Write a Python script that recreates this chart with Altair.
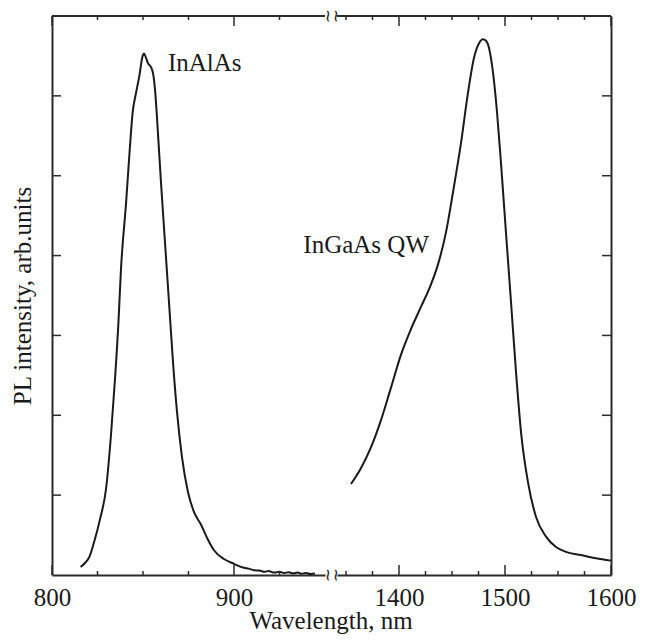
import altair as alt
import pandas as pd

# ---- data ----
inalas_nm = [815.7, 818.1, 820.6, 823.1, 826.4, 829.7, 832.4, 834.6, 836.5, 837.9,
             840.7, 842.6, 844.3, 846.2, 848.0, 849.8, 850.5, 851.6, 852.7, 854.4,
             855.7, 856.6, 857.4, 858.2, 859.9, 862.1, 864.3, 866.5, 868.7, 871.4,
             874.7, 878.0, 881.9, 885.5, 889.0, 894.5, 900.0, 905.5, 908.0, 911.0,
             914.0, 917.0, 919.0, 922.0, 925.0, 927.5, 930.0, 932.5, 935.0, 937.0,
             939.5, 942.0, 944.5]
inalas_int = [0.10, 0.15, 0.23, 0.41, 0.70, 1.08, 1.75, 2.45, 3.16, 3.83,
              4.66, 5.29, 5.79, 6.04, 6.25, 6.50, 6.53, 6.48, 6.41, 6.36,
              6.26, 6.08, 5.83, 5.54, 4.91, 4.16, 3.41, 2.66, 2.04, 1.48,
              1.04, 0.79, 0.63, 0.45, 0.31, 0.20, 0.14, 0.09, 0.08, 0.06,
              0.055, 0.04, 0.05, 0.03, 0.04, 0.025, 0.035, 0.02, 0.03, 0.015,
              0.025, 0.012, 0.018]

ingaas_nm = [1354.7, 1364.2, 1373.6, 1383.0, 1392.5, 1401.9, 1411.3, 1420.8, 1430.2, 1436.8,
             1444.3, 1450.9, 1458.5, 1465.1, 1470.8, 1475.5, 1479.2, 1482.1, 1484.9, 1488.7,
             1492.5, 1496.2, 1500.9, 1505.7, 1510.4, 1515.1, 1521.7, 1529.2, 1538.7, 1548.1,
             1557.5, 1571.7, 1585.8, 1600.0]
ingaas_int = [1.14, 1.34, 1.60, 1.94, 2.35, 2.76, 3.08, 3.36, 3.64, 3.89,
              4.29, 4.79, 5.41, 6.04, 6.48, 6.66, 6.71, 6.69, 6.60, 6.29,
              5.79, 5.16, 4.29, 3.41, 2.54, 1.79, 1.16, 0.73, 0.48, 0.35,
              0.29, 0.25, 0.21, 0.18]

left_domain = [800, 950]
right_domain = [1341.5, 1600]
left_major = [800, 900]
left_minor = [825, 850, 875, 925]
right_major = [1400, 1500, 1600]
right_minor = [1350, 1375, 1425, 1450, 1475, 1525, 1550, 1575]
y_ticks = [1, 2, 3, 4, 5, 6]

labels_left = pd.DataFrame({"x": [863.7], "y": [6.31], "t": ["InAlAs"]})
labels_right = pd.DataFrame({"x": [1428.3], "y": [4.03], "t": ["InGaAs QW"]})

H = 559
WL = 273
WR = 274
FONT = "Liberation Serif"
INK = "#1a1a1a"
AX = "#2b2b2b"
MAJ = 10 / 80.0   # tick length in y units (80 px per unit)
MIN = 4 / 80.0


def panel(nm, inten, domain, width, major, minor, yorient, ytitle, labels, squiggle):
    line_df = pd.DataFrame({"x": nm, "y": inten})
    xscale = alt.Scale(domain=domain, nice=False, zero=False)
    yscale = alt.Scale(domain=[0, 7], nice=False, zero=True)
    xaxis = alt.Axis(values=major, ticks=False, tickSize=0, grid=False, title=None,
                     labelFlush=False, labelOverlap=False, labelPadding=10,
                     domainColor=AX, domainWidth=2, format="d")
    yaxis_kw = dict(orient=yorient, labels=False, ticks=False, tickSize=0, grid=False,
                    domainColor=AX, domainWidth=2)
    if ytitle:
        yaxis = alt.Axis(title=ytitle, titlePadding=17, **yaxis_kw)
    else:
        yaxis = alt.Axis(title=None, **yaxis_kw)

    line = alt.Chart(line_df).mark_line(color=INK, strokeWidth=2,
                                        interpolate="monotone").encode(
        x=alt.X("x:Q", scale=xscale, axis=xaxis),
        y=alt.Y("y:Q", scale=yscale, axis=yaxis),
    )
    maj = pd.DataFrame({"x": major})
    mnr = pd.DataFrame({"x": minor})
    yt = pd.DataFrame({"y": y_ticks})
    layers = [line]
    for df, ln in ((maj, MAJ), (mnr, MIN)):
        layers.append(alt.Chart(df).mark_rule(color=AX, strokeWidth=1.5).encode(
            x="x:Q", y=alt.datum(0), y2=alt.datum(ln)))
        layers.append(alt.Chart(df).mark_rule(color=AX, strokeWidth=1.5).encode(
            x="x:Q", y=alt.datum(7), y2=alt.datum(7 - ln)))
    if yorient == "left":
        layers.append(alt.Chart(yt).mark_rule(color=AX, strokeWidth=1.5).encode(
            y="y:Q", x=alt.value(0), x2=alt.value(9)))
    else:
        layers.append(alt.Chart(yt).mark_rule(color=AX, strokeWidth=1.5).encode(
            y="y:Q", x=alt.value(width - 9), x2=alt.value(width)))
    # top frame line
    layers.append(alt.Chart(yt.head(1)).mark_rule(color=AX, strokeWidth=2).encode(
        x=alt.value(0), x2=alt.value(width), y=alt.value(0)))
    # annotation
    align = "left" if yorient == "left" else "right"
    layers.append(alt.Chart(labels).mark_text(
        font=FONT, fontSize=25, color=INK, align=align, baseline="alphabetic").encode(
        x="x:Q", y="y:Q", text="t:N"))
    if squiggle:
        sq = pd.DataFrame({"y": [0, 7], "t": ["~", "~"]})
        for dxp in (2, 10):
            layers.append(alt.Chart(sq).mark_text(
                font="DejaVu Sans", fontSize=17, color=AX, align="center",
                baseline="middle", angle=90).encode(
                x=alt.value(width + dxp), y="y:Q", text="t:N"))
    return alt.layer(*layers).properties(width=width, height=H)


left = panel(inalas_nm, inalas_int, left_domain, WL, left_major, left_minor,
             "left", "PL intensity, arb.units", labels_left, True)
right = panel(ingaas_nm, ingaas_int, right_domain, WR, right_major, right_minor,
              "right", None, labels_right, False)

chart = alt.hconcat(left, right, spacing=12, bounds="flush").properties(
    title=alt.TitleParams("Wavelength, nm", orient="bottom", anchor="middle",
                          font=FONT, fontSize=25, fontWeight="normal", color=INK,
                          dx=8, offset=-1),
    padding={"left": 2, "top": 0, "right": 5, "bottom": 2},
).configure_view(stroke=None).configure_axis(
    labelFont=FONT, labelFontSize=25, labelColor=INK,
    titleFont=FONT, titleFontSize=25, titleFontWeight="normal", titleColor=INK,
).configure_concat(spacing=12)

chart.save("out.html", embed_options={"renderer": "svg", "actions": False})
